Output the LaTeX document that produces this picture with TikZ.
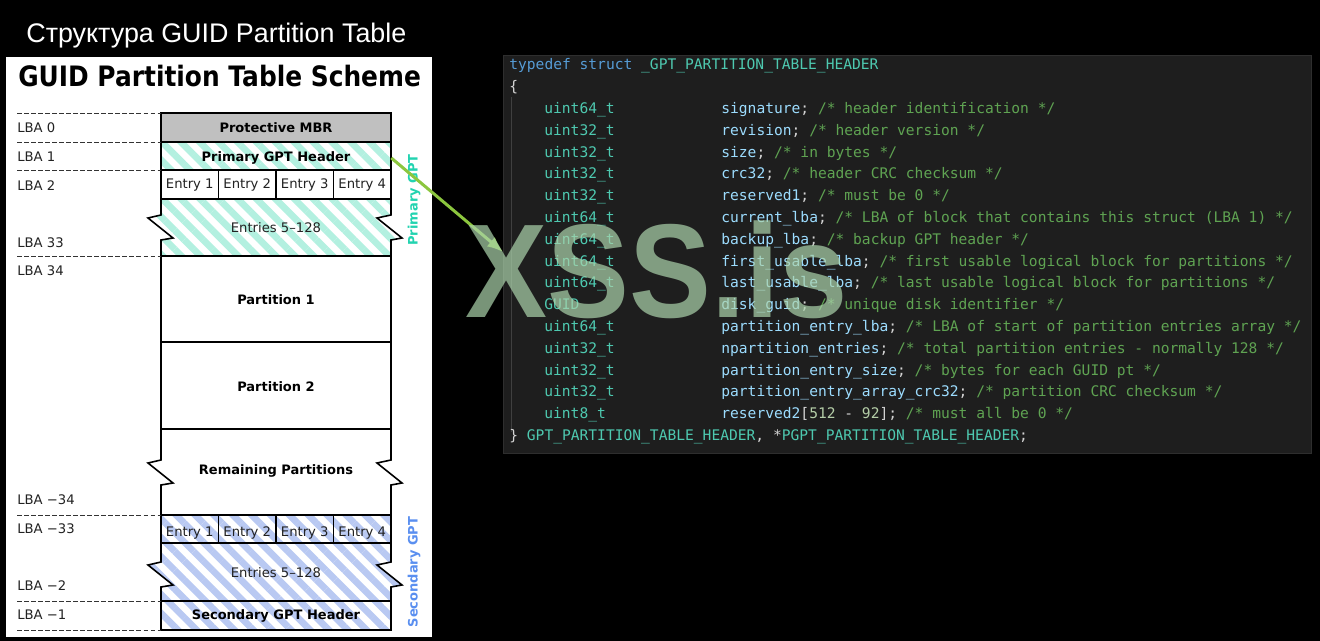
\documentclass[tikz,border=0pt]{standalone}
\usepackage{fontspec}
\setmainfont{DejaVu Sans}
\newfontfamily\titlefamily{Liberation Sans}
\newfontfamily\codefamily{DejaVu Sans Mono}
\usetikzlibrary{arrows.meta,patterns.meta}

\definecolor{mbrgrey}{HTML}{C0C0C0}
\definecolor{pgptfill}{HTML}{B3F0E0}
\definecolor{sgptfill}{HTML}{B9C9F2}
\definecolor{pgpttext}{HTML}{22D3B0}
\definecolor{sgpttext}{HTML}{5A8FF0}
\definecolor{dashgrey}{HTML}{333333}
\definecolor{labelgrey}{HTML}{222222}
\definecolor{arrowgreen}{HTML}{8CC63E}
\definecolor{codebg}{HTML}{1E1E1E}
\definecolor{codeborder}{HTML}{2E2E2E}
\definecolor{guidegrey}{HTML}{404040}
\definecolor{ckey}{HTML}{569CD6}
\definecolor{ctype}{HTML}{4EC9B0}
\definecolor{cvar}{HTML}{9CDCFE}
\definecolor{cpun}{HTML}{D4D4D4}
\definecolor{ccom}{HTML}{5FA352}
\definecolor{cnum}{HTML}{B5CEA8}
\definecolor{wmgreen}{HTML}{ACD4AC}

\newcommand\lbafont{\fontsize{7.5}{9}\selectfont}
\newcommand\boxfont{\bfseries\fontsize{7.4}{9}\selectfont}
\newcommand\schemefont{\bfseries\fontsize{16}{19}\selectfont}
\newcommand\headfont{\titlefamily\fontsize{15.3}{18}\selectfont}
\newcommand\codesize{\codefamily\fontsize{8.31}{10}\selectfont}
\newcommand\wmfont{\titlefamily\bfseries\fontsize{76}{80}\selectfont}

\begin{document}
\begin{tikzpicture}[x=0.02cm, y=-0.02cm,
  lba/.style={anchor=base west, inner sep=0pt, font=\lbafont, text=labelgrey},
  boxlabel/.style={anchor=base, inner sep=0pt, font=\boxfont},
  entry/.style={anchor=base, inner sep=0pt, font=\lbafont, text=labelgrey},
  sidelabel/.style={rotate=90, inner sep=0pt, font=\boxfont},
  lbaline/.style={draw=dashgrey, line width=0.55pt, dash pattern=on 2.8pt off 1.2pt},
  boxline/.style={draw=black, line width=0.9pt, line join=miter},
  codetxt/.style={anchor=base west, inner sep=0pt, font=\codesize},
  gptarrow/.style={draw=arrowgreen, line width=1.7pt, -{Latex[length=9pt,width=7pt]}}]

% background and panel
\fill[black] (0,0) rectangle (1320,641);
\fill[white] (6,57) rectangle (432,637);
\node[anchor=base west, inner sep=0pt, text=white, font=\headfont] (title) at (26,43) {Структура GUID Partition Table};
\node[anchor=base west, inner sep=0pt, font=\schemefont, xscale=0.885] (scheme) at (18,87) {GUID Partition Table Scheme};

% fills
\fill[mbrgrey] (161,113) rectangle (391,142);
\path[pattern={Lines[angle=-45,distance=7.6pt,line width=3.8pt]}, pattern color=pgptfill]
  (161,142) -- (391,142) -- (391,215) -- (377,218) -- (402,238) -- (391,240) -- (391,256)
  -- (161,256) -- (161,240) -- (173,238) -- (148,218) -- (161,215) -- cycle;
\fill[white] (161,170) rectangle (391,199);
\path[pattern={Lines[angle=-45,distance=7.6pt,line width=3.8pt]}, pattern color=sgptfill]
  (161,515) -- (391,515) -- (391,562) -- (377,565) -- (402,585) -- (391,587) -- (391,630)
  -- (161,630) -- (161,587) -- (173,585) -- (148,565) -- (161,562) -- cycle;

% outline with torn edges
\draw[boxline] (161,113) -- (161,215) -- (148,218) -- (173,238) -- (161,240)
  -- (161,460) -- (148,463) -- (173,483) -- (161,485)
  -- (161,562) -- (148,565) -- (173,585) -- (161,587) -- (161,630)
  -- (391,630) -- (391,587) -- (402,585) -- (377,565) -- (391,562)
  -- (391,485) -- (402,483) -- (377,463) -- (391,460)
  -- (391,240) -- (402,238) -- (377,218) -- (391,215) -- (391,113) -- cycle;
\foreach \y in {142,170,199,256,342,429,515,543,601}
  \draw[boxline] (161,\y) -- (391,\y);
\foreach \x in {218.5,276,333.5} {
  \draw[boxline] (\x,170) -- (\x,199);
  \draw[boxline] (\x,515) -- (\x,543);
}

% LBA marks
\foreach \y in {113,142,170,256,515,601,630}
  \draw[lbaline] (17,\y) -- (161,\y);
\node[lba] (lba0) at (17,133) {LBA 0};
\node[lba] (lba1) at (17,162) {LBA 1};
\node[lba] (lba2) at (17,191) {LBA 2};
\node[lba] (lba33) at (17,248) {LBA 33};
\node[lba] (lba34) at (17,276) {LBA 34};
\node[lba] (lbam34) at (17,505) {LBA −34};
\node[lba] (lbam33) at (17,534) {LBA −33};
\node[lba] (lbam2) at (17,591) {LBA −2};
\node[lba] (lbam1) at (17,620) {LBA −1};

% block labels
\node[boxlabel] (mbr) at (276,133) {Protective MBR};
\node[boxlabel, anchor=center, minimum width=4.6cm, minimum height=0.56cm] (pgh) at (276,158) {Primary GPT Header};
\foreach \i/\x in {1/189.75,2/247.25,3/304.75,4/362.25} {
  \node[entry] (pe\i) at (\x,189) {Entry \i};
  \node[entry] (se\i) at (\x,537) {Entry \i};
}
\node[entry] (pents) at (276,233) {Entries 5–128};
\node[boxlabel] (part1) at (276,305) {Partition 1};
\node[boxlabel] (part2) at (276,392) {Partition 2};
\node[boxlabel] (rest) at (276,475) {Remaining Partitions};
\node[entry] (sents) at (276,578) {Entries 5–128};
\node[boxlabel] (sgh) at (276,620) {Secondary GPT Header};
\node[sidelabel, text=pgpttext] (pgpt) at (414,200) {Primary GPT};
\node[sidelabel, text=sgpttext] (sgpt) at (414,572) {Secondary GPT};

% code listing
\node[fill=codebg, draw=codeborder, anchor=north west, inner sep=0pt,
  minimum width=16.16cm, minimum height=7.96cm] (codebox) at (503,55) {};
\draw[guidegrey, line width=0.5pt] (511,97) -- (511,432);
\node[codetxt] (c0) at (509,70) {\textcolor{ckey}{typedef struct} \textcolor{ctype}{\_GPT\_PARTITION\_TABLE\_HEADER}};
\node[codetxt, text=cpun] (c1) at (509,91.8) {\{};
\foreach \i/\ty/\nm/\cm in {
  2/uint64\_t/signature/header identification,
  3/uint32\_t/revision/header version,
  4/uint32\_t/size/in bytes,
  5/uint32\_t/crc32/header CRC checksum,
  6/uint32\_t/reserved1/must be 0,
  7/uint64\_t/current\_lba/LBA of block that contains this struct (LBA 1),
  8/uint64\_t/backup\_lba/backup GPT header,
  9/uint64\_t/first\_usable\_lba/first usable logical block for partitions,
  10/uint64\_t/last\_usable\_lba/last usable logical block for partitions,
  11/GUID/disk\_guid/unique disk identifier,
  12/uint64\_t/partition\_entry\_lba/LBA of start of partition entries array,
  13/uint32\_t/npartition\_entries/total partition entries - normally 128,
  14/uint32\_t/partition\_entry\_size/bytes for each GUID pt,
  15/uint32\_t/partition\_entry\_array\_crc32/partition CRC checksum} {
  \node[codetxt, text=ctype] (t\i) at (544,70+21.8*\i) {\ty};
  \node[codetxt] (m\i) at (721,70+21.8*\i) {\textcolor{cvar}{\nm}\textcolor{cpun}{;} \textcolor{ccom}{/* \cm{} */}};
}
\node[codetxt, text=ctype] (t16) at (544,418.8) {uint8\_t};
\node[codetxt] (m16) at (721,418.8) {\textcolor{cvar}{reserved2}\textcolor{cpun}{[}\textcolor{cnum}{512} \textcolor{cpun}{-} \textcolor{cnum}{92}\textcolor{cpun}{];} \textcolor{ccom}{/* must all be 0 */}};
\node[codetxt] (c17) at (509,440.6) {\textcolor{cpun}{\}} \textcolor{ctype}{GPT\_PARTITION\_TABLE\_HEADER}\textcolor{cpun}{, *}\textcolor{ctype}{PGPT\_PARTITION\_TABLE\_HEADER}\textcolor{cpun}{;}};

% header -> struct
\coordinate (hdrtarget) at (503,252);
\draw[gptarrow] (pgh.east) -- (hdrtarget);

% watermark
\node[anchor=base west, inner sep=0pt, font=\wmfont, text=wmgreen, opacity=0.7, text opacity=0.7, xscale=0.92] (wm) at (465,318) {XSS.is};
\end{tikzpicture}
\end{document}
